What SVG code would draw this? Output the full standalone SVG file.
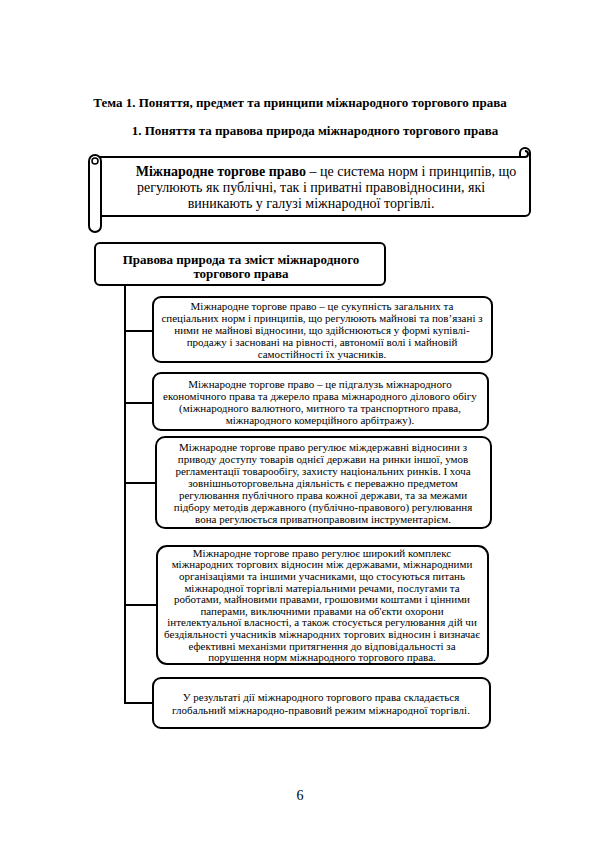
<svg xmlns="http://www.w3.org/2000/svg" width="600" height="848" viewBox="0 0 600 848" font-family="Liberation Serif, Times New Roman, serif">
<style>
.h{font-family:'Liberation Serif','Times New Roman',serif;font-weight:bold;font-size:13px;fill:#000}
.s{font-family:'Liberation Serif','Times New Roman',serif;font-size:14px;fill:#000}
.t{font-family:'Liberation Serif','Times New Roman',serif;font-size:11px;fill:#000;text-anchor:middle}
.box{fill:#fff;stroke:#000;stroke-width:2}
.ln{fill:none;stroke:#000;stroke-width:2}
</style>
<rect width="600" height="848" fill="#fff"/>
<text class="h" x="300" y="107" text-anchor="middle">Тема 1. Поняття, предмет та принципи міжнародного торгового права</text>
<text class="h" x="315" y="135" text-anchor="middle">1. Поняття та правова природа міжнародного торгового права</text>

<g id="scroll">
<path class="box" d="M96 157 H520 V153 A5 5 0 0 1 530 153 V211 A5 5 0 0 1 525 216 H101"/>
<path class="ln" d="M520 157 H525 A3 3 0 0 0 525 151"/>
<path class="box" d="M89 161 A6 6 0 0 1 101 161 V226 A6 6 0 0 1 89 226 Z"/>
<circle cx="95" cy="161" r="3" fill="none" stroke="#000" stroke-width="1.5"/>
<text class="s" x="326" y="176" text-anchor="middle"><tspan font-weight="bold">Міжнародне торгове право</tspan> – це система норм і принципів, що</text>
<text class="s" x="311" y="192" text-anchor="middle">регулюють як публічні, так і приватні правовідносини, які</text>
<text class="s" x="311" y="208" text-anchor="middle">виникають у галузі міжнародної торгівлі.</text>
</g>

<g id="connectors">
<path class="ln" d="M125 285 V703 H153"/>
<path class="ln" d="M125 331 H153 M125 403 H153 M125 483 H156 M125 605 H157"/>
</g>

<g id="title">
<rect class="box" x="95" y="243" width="290" height="42" rx="5"/>
<text class="h" x="241" y="264" text-anchor="middle">Правова природа та зміст міжнародного</text>
<text class="h" x="241" y="278" text-anchor="middle">торгового права</text>
</g>

<g id="box1">
<rect class="box" x="153" y="297" width="339" height="65" rx="8"/>
<text class="t" x="322" y="309.5">Міжнародне торгове право –  це сукупність загальних та</text>
<text class="t" x="322" y="321.5">спеціальних норм і принципів, що регулюють майнові та пов’язані з</text>
<text class="t" x="322" y="333.5">ними не майнові відносини, що здійснюються у формі купівлі-</text>
<text class="t" x="322" y="345.5">продажу і засновані на рівності, автономії волі і майновій</text>
<text class="t" x="322" y="357.5">самостійності їх учасників.</text>
</g>

<g id="box2">
<rect class="box" x="153" y="373" width="335" height="57" rx="8"/>
<text class="t" x="320" y="387.5">Міжнародне торгове право  –  це підгалузь міжнародного</text>
<text class="t" x="320" y="399.5">економічного права та джерело права міжнародного ділового обігу</text>
<text class="t" x="320" y="411.5">(міжнародного валютного, митного та транспортного права,</text>
<text class="t" x="320" y="423.5">міжнародного комерційного арбітражу).</text>
</g>

<g id="box3">
<rect class="box" x="156" y="437" width="335" height="91" rx="9"/>
<text class="t" x="323" y="450.5">Міжнародне торгове право регулює міждержавні відносини з</text>
<text class="t" x="323" y="462.5">приводу доступу товарів однієї держави на ринки іншої, умов</text>
<text class="t" x="323" y="474.5">регламентації товарообігу, захисту національних ринків.  І хоча</text>
<text class="t" x="323" y="486.5">зовнішньоторговельна діяльність є переважно предметом</text>
<text class="t" x="323" y="498.5">регулювання публічного права кожної держави,  та за межами</text>
<text class="t" x="323" y="510.5">підбору методів державного (публічно-правового) регулювання</text>
<text class="t" x="323" y="522.5">вона регулюється  приватноправовим  інструментарієм.</text>
</g>

<g id="box4">
<rect class="box" x="157" y="546" width="331" height="118" rx="10"/>
<text class="t" x="322" y="556.8">Міжнародне торгове право регулює широкий комплекс</text>
<text class="t" x="322" y="568.4">міжнародних торгових відносин між державами, міжнародними</text>
<text class="t" x="322" y="580">організаціями та іншими учасниками, що стосуються питань</text>
<text class="t" x="322" y="591.6">міжнародної торгівлі матеріальними речами, послугами та</text>
<text class="t" x="322" y="603.2">роботами, майновими правами, грошовими коштами і цінними</text>
<text class="t" x="322" y="614.8">паперами, виключними правами на об'єкти охорони</text>
<text class="t" x="322" y="626.4">інтелектуальної власності, а також стосується регулювання дій чи</text>
<text class="t" x="322" y="638">бездіяльності учасників міжнародних торгових відносин і визначає</text>
<text class="t" x="322" y="649.6">ефективні механізми притягнення до відповідальності за</text>
<text class="t" x="322" y="661.2">порушення норм міжнародного торгового права.</text>
</g>

<g id="box5">
<rect class="box" x="153" y="678" width="337" height="50" rx="8"/>
<text class="t" x="321" y="700.5">У результаті дії міжнародного торгового права складається</text>
<text class="t" x="321" y="713.5">глобальний міжнародно-правовий режим  міжнародної торгівлі.</text>
</g>

<text x="300" y="800" text-anchor="middle" font-size="14px">6</text>
</svg>
